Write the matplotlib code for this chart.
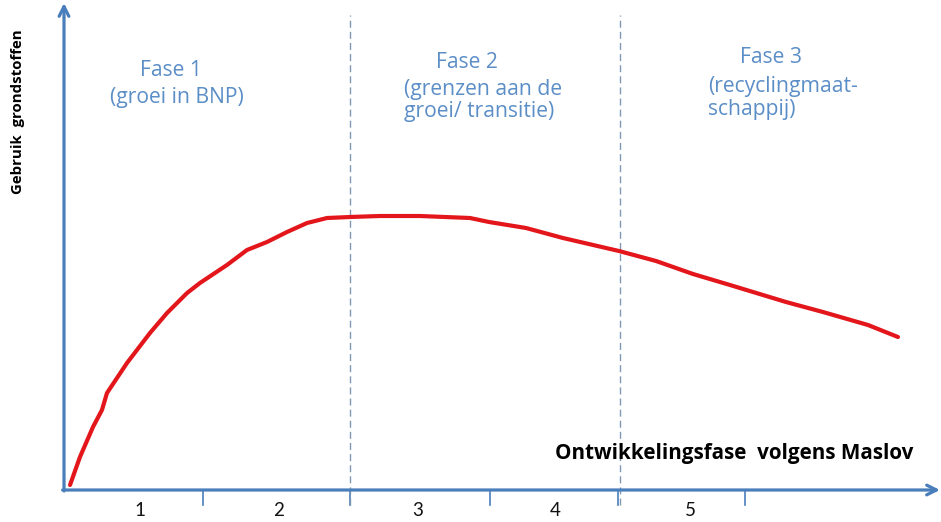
import matplotlib
matplotlib.use("Agg")
import matplotlib.pyplot as plt

# ---- data (x: development phase units, y: resource use, arbitrary units) ----
curve_x = [0.043, 0.114, 0.207, 0.271, 0.307, 0.45, 0.614, 0.736, 0.879, 0.971,
           1.164, 1.307, 1.45, 1.593, 1.736, 1.879, 2.043, 2.257, 2.543, 2.9,
           3.036, 3.3, 3.564, 3.964, 4.229, 4.493, 4.757, 5.157, 5.421, 5.743, 5.957]
curve_y = [0.05, 0.33, 0.63, 0.80, 0.97, 1.27, 1.57, 1.77, 1.97, 2.07,
           2.25, 2.40, 2.48, 2.58, 2.67, 2.72, 2.73, 2.74, 2.74, 2.72,
           2.68, 2.62, 2.52, 2.39, 2.29, 2.16, 2.05, 1.88, 1.78, 1.65, 1.53]
tick_positions = [0.993, 2.043, 3.043, 3.957, 4.864]
tick_labels = ["1", "2", "3", "4", "5"]
label_positions = [0.543, 1.529, 2.529, 3.507, 4.471]
phase_bounds = [2.043, 3.971]
phase_texts = [
    [("Fase 1", 0.543, 4.20), ("(groei in BNP)", 0.329, 3.93)],
    [("Fase 2", 2.657, 4.28), ("(grenzen aan de", 2.429, 4.01), ("groei/ transitie)", 2.429, 3.79)],
    [("Fase 3", 4.829, 4.33), ("(recyclingmaat-", 4.600, 4.04), ("schappij)", 4.600, 3.81)],
]

FONT = ["Open Sans", "DejaVu Sans"]
AXIS_BLUE = "#4a7ebb"
TEXT_BLUE = "#5b8ec7"
DASH_BLUE = "#7f99b5"
RED = "#e3161b"

fig = plt.figure(figsize=(9.41, 5.22), dpi=100)
ax = fig.add_axes([0, 0, 1, 1])
ax.set_xlim(-64 / 140, (941 - 64) / 140)
ax.set_ylim((490 - 522) / 100, 490 / 100)
ax.axis("off")

# axes with arrows
ax.annotate("", xy=(6.257, 0), xytext=(-0.01, 0),
            arrowprops=dict(arrowstyle="->,head_length=0.7,head_width=0.35",
                            color=AXIS_BLUE, lw=2.3, shrinkA=0, shrinkB=0))
ax.annotate("", xy=(0, 4.87), xytext=(0, -0.01),
            arrowprops=dict(arrowstyle="->,head_length=0.7,head_width=0.35",
                            color=AXIS_BLUE, lw=2.3, shrinkA=0, shrinkB=0))

# ticks
for tx in tick_positions:
    ax.plot([tx, tx], [0, -0.15], color=AXIS_BLUE, lw=1.2)
for lx, lab in zip(label_positions, tick_labels):
    ax.text(lx, -0.2, lab, ha="center", va="center", fontsize=13.5,
            family=["Lato", "DejaVu Sans"], color="#111111")

# phase boundaries
for bx in phase_bounds:
    ax.plot([bx, bx], [-0.15, 4.75], color=DASH_BLUE, lw=1.0, ls=(0, (5, 3)))

# curve
ax.plot(curve_x, curve_y, color=RED, lw=3.0, solid_capstyle="round",
        solid_joinstyle="round")

# phase texts
for group in phase_texts:
    for txt, x, y in group:
        ax.text(x, y, txt, ha="left", va="center", fontsize=15.2,
                family=FONT, color=TEXT_BLUE)

# axis labels
ax.text(-0.33, 3.78, "Gebruik  grondstoffen", rotation=90, ha="center",
        va="center", fontsize=10.8, fontweight="bold", family=FONT, color="black")
ax.text(3.507, 0.37, "Ontwikkelingsfase  volgens Maslov", ha="left", va="center",
        fontsize=14.9, fontweight="bold", family=FONT, color="black")

fig.savefig("out.png", dpi=100)
